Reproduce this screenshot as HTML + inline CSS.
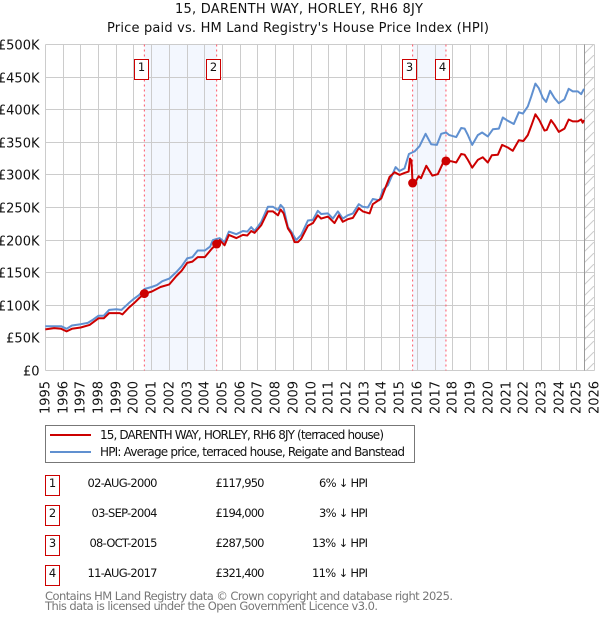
<!DOCTYPE html>
<html lang="en">
<head>
<meta charset="utf-8">
<title>15, DARENTH WAY, HORLEY, RH6 8JY</title>
<style>
html,body{margin:0;padding:0;background:#fff;}
svg{display:block;font-family:"DejaVu Sans","Liberation Sans",sans-serif;}
text{fill:#111;}
</style>
</head>
<body>
<svg id="chart" width="600" height="620" viewBox="0 0 600 620" xmlns="http://www.w3.org/2000/svg">
  <defs>
    <pattern id="hatch" width="11" height="11" patternUnits="userSpaceOnUse" y="0">
      <line x1="0" y1="11" x2="11" y2="0" stroke="#ccc" stroke-width="1"/>
    </pattern>
  </defs>
  <text x="299" y="13" text-anchor="middle" font-size="13" textLength="248" lengthAdjust="spacing">15, DARENTH WAY, HORLEY, RH6 8JY</text>
  <text x="298" y="32" text-anchor="middle" font-size="13" textLength="382" lengthAdjust="spacing">Price paid vs. HM Land Registry's House Price Index (HPI)</text>

  <g id="bands"></g>
  <g id="grid"></g>
  <g id="future"></g>
  <g id="sale-lines"></g>
  <g id="series"></g>
  <g id="markers"></g>
  <g id="labels"></g>

  <g>
    <rect x="45.5" y="425.5" width="369" height="37" fill="#fff" stroke="#777" stroke-width="1"/>
    <line x1="50" y1="435" x2="91" y2="435" stroke="#c00" stroke-width="2"/>
    <text x="100" y="439" font-size="12" textLength="284" lengthAdjust="spacing">15, DARENTH WAY, HORLEY, RH6 8JY (terraced house)</text>
    <line x1="50" y1="452" x2="91" y2="452" stroke="#6090d0" stroke-width="2"/>
    <text x="100" y="456" font-size="12" textLength="305" lengthAdjust="spacing">HPI: Average price, terraced house, Reigate and Banstead</text>
  </g>

  <g font-size="11.5">
    <g>
      <rect x="45.5" y="475.5" width="14" height="20" fill="#fff" stroke="#c00" stroke-width="1"/>
      <text x="52.5" y="487" text-anchor="middle">1</text>
      <text x="157.5" y="487" text-anchor="end" textLength="70" lengthAdjust="spacing">02-AUG-2000</text>
      <text x="264.5" y="487" text-anchor="end" textLength="49" lengthAdjust="spacing">£117,950</text>
      <text x="368" y="487" text-anchor="end" textLength="49" lengthAdjust="spacing">6% ↓ HPI</text>
    </g>
    <g>
      <rect x="45.5" y="505.5" width="14" height="20" fill="#fff" stroke="#c00" stroke-width="1"/>
      <text x="52.5" y="517" text-anchor="middle">2</text>
      <text x="157.5" y="517" text-anchor="end" textLength="66" lengthAdjust="spacing">03-SEP-2004</text>
      <text x="264.5" y="517" text-anchor="end" textLength="49" lengthAdjust="spacing">£194,000</text>
      <text x="368" y="517" text-anchor="end" textLength="49" lengthAdjust="spacing">3% ↓ HPI</text>
    </g>
    <g>
      <rect x="45.5" y="535.5" width="14" height="20" fill="#fff" stroke="#c00" stroke-width="1"/>
      <text x="52.5" y="547" text-anchor="middle">3</text>
      <text x="157.5" y="547" text-anchor="end" textLength="68" lengthAdjust="spacing">08-OCT-2015</text>
      <text x="264.5" y="547" text-anchor="end" textLength="49" lengthAdjust="spacing">£287,500</text>
      <text x="368" y="547" text-anchor="end" textLength="56" lengthAdjust="spacing">13% ↓ HPI</text>
    </g>
    <g>
      <rect x="45.5" y="565.5" width="14" height="20" fill="#fff" stroke="#c00" stroke-width="1"/>
      <text x="52.5" y="577" text-anchor="middle">4</text>
      <text x="157.5" y="577" text-anchor="end" textLength="70" lengthAdjust="spacing">11-AUG-2017</text>
      <text x="264.5" y="577" text-anchor="end" textLength="49" lengthAdjust="spacing">£321,400</text>
      <text x="368" y="577" text-anchor="end" textLength="56" lengthAdjust="spacing">11% ↓ HPI</text>
    </g>
  </g>

  <text x="45" y="600" font-size="11.5" style="fill:#777" textLength="408" lengthAdjust="spacing">Contains HM Land Registry data © Crown copyright and database right 2025.</text>
  <text x="45" y="610" font-size="11.5" style="fill:#777" textLength="333" lengthAdjust="spacing">This data is licensed under the Open Government Licence v3.0.</text>
</svg>

<script>
const yearTicks = [1995,1996,1997,1998,1999,2000,2001,2002,2003,2004,2005,2006,2007,2008,2009,2010,2011,2012,2013,2014,2015,2016,2017,2018,2019,2020,2021,2022,2023,2024,2025,2026];
const priceTicks = [0,50,100,150,200,250,300,350,400,450,500];
const priceTickLabels = ["£0","£50K","£100K","£150K","£200K","£250K","£300K","£350K","£400K","£450K","£500K"];

const saleDates = [2000.59,2004.67,2015.73,2017.61];
const salePrices = [117.95,194,287.5,321.4];
const saleBadges = ["1","2","3","4"];
const dataEndYear = 2025.45;

const hpiDates = [1995,1995.5,1995.9,1996.2,1996.5,1997,1997.4,1997.7,1998,1998.3,1998.6,1999,1999.3,1999.7,2000,2000.3,2000.6,2001,2001.3,2001.6,2002,2002.4,2002.7,2003,2003.3,2003.6,2004,2004.3,2004.46,2004.84,2005.12,2005.36,2005.78,2006.15,2006.4,2006.62,2006.81,2007.19,2007.56,2007.85,2008.13,2008.28,2008.45,2008.69,2008.88,2009.16,2009.44,2009.82,2010.1,2010.38,2010.57,2010.95,2011.23,2011.51,2011.79,2012.07,2012.36,2012.69,2012.92,2013.2,2013.48,2013.86,2014.05,2014.33,2014.77,2014.99,2015.27,2015.52,2015.84,2016.12,2016.46,2016.78,2017.1,2017.34,2017.62,2017.8,2018.19,2018.47,2018.66,2018.85,2019.09,2019.41,2019.65,2019.97,2020.26,2020.6,2020.82,2021.1,2021.44,2021.72,2021.95,2022.23,2022.42,2022.66,2022.85,2023.08,2023.26,2023.49,2023.73,2023.98,2024.3,2024.54,2024.77,2025.05,2025.24,2025.4];
const hpiValues = [68,68,68,64,69,71,73,78,84,84,93,94,93,103,110,116,125,128,131,137,141,151,160,172,174,184,184,190,200,203,197,213,209,214,213,220,214,228,251,251,246,254,249,220,213,200,208,230,231,245,240,241,233,244,233,238,241,255,251,250,263,261,277,284,312,306,310,332,336,344,363,347,346,363,365,361,358,372,371,361,346,361,365,359,370,371,388,383,378,396,394,405,420,440,433,418,412,429,418,410,416,432,428,428,424,432];

const priceDates = [1995,1995.5,1995.9,1996.2,1996.5,1997,1997.5,1998,1998.3,1998.6,1999.2,1999.35,1999.7,2000,2000.3,2000.59,2001,2001.5,2002,2002.4,2002.7,2003,2003.3,2003.6,2004,2004.4,2004.67,2004.84,2005.12,2005.36,2005.78,2006.15,2006.4,2006.62,2006.81,2007.19,2007.56,2007.85,2008.13,2008.28,2008.45,2008.69,2008.88,2009.07,2009.26,2009.44,2009.82,2010.1,2010.38,2010.57,2010.95,2011.32,2011.57,2011.79,2012.07,2012.36,2012.69,2012.92,2013.3,2013.48,2013.96,2014.43,2014.71,2014.99,2015.27,2015.5,2015.58,2015.66,2015.73,2015.9,2016.08,2016.2,2016.5,2016.84,2017.15,2017.44,2017.61,2017.9,2018.19,2018.47,2018.66,2018.85,2019.09,2019.41,2019.69,2019.97,2020.2,2020.54,2020.78,2021.1,2021.38,2021.72,2021.98,2022.23,2022.45,2022.66,2022.88,2023.17,2023.3,2023.54,2023.73,2023.98,2024.3,2024.54,2024.77,2025.05,2025.24,2025.33,2025.4];
const priceValues = [63,65,64,60,64,66,70,80,80,88,88,86,96,103,111,118,121,128,132,145,153,165,167,174,174,187,194,200,192,208,203,208,207,214,211,223,244,244,238,247,241,218,210,197,197,202,222,226,238,233,236,226,238,228,232,234,249,244,241,255,264,297,304,300,303,305,325,322,287.5,290,298,295,314,299,301,318,321.4,321,319,332,331,323,311,323,327,319,330,331,346,342,337,353,352,361,377,393,384,368,369,384,377,366,371,385,382,382,385,380,384];

const NS = "http://www.w3.org/2000/svg";
function xAt(year){ return 45.3 + (year - 1995) * 17.72; }
function yAt(k){ return 370.5 - k * 0.652; }
function snap(v){ return Math.floor(v) + 0.5; }
function make(tag, attrs, parentId){
  const e = document.createElementNS(NS, tag);
  for (const key in attrs) e.setAttribute(key, attrs[key]);
  document.getElementById(parentId).appendChild(e);
  return e;
}
function linePath(dates, values){
  return dates.map(function(d, i){
    return (i ? "L" : "M") + xAt(d).toFixed(1) + " " + yAt(values[i]).toFixed(1);
  }).join("");
}

const plotLeft = snap(xAt(yearTicks[0]));
const plotRight = snap(xAt(yearTicks[yearTicks.length - 1]));
const plotTop = snap(yAt(priceTicks[priceTicks.length - 1]));
const plotBottom = snap(yAt(priceTicks[0]));

for (let i = 0; i + 1 < saleDates.length; i += 2) {
  const band = make("rect", {x: xAt(saleDates[i]), y: plotTop, width: xAt(saleDates[i + 1]) - xAt(saleDates[i]), height: plotBottom - plotTop, fill: "#f3f7fe"}, "bands");
  
  
}

priceTicks.forEach(function(t, i){
  const g = make("line", {x1: plotLeft, x2: plotRight, y1: snap(yAt(t)), y2: snap(yAt(t)), stroke: "#ccc", "stroke-width": 1}, "grid");
  
  
  const label = make("text", {x: 39.5, y: snap(yAt(t)) + 5, "text-anchor": "end", "font-size": 13}, "labels");
  label.textContent = priceTickLabels[i];
  
  
});

yearTicks.forEach(function(t){
  const px = snap(xAt(t));
  const g = make("line", {x1: px, x2: px, y1: plotTop, y2: plotBottom, stroke: "#ccc", "stroke-width": 1}, "grid");
  
  
  const label = make("text", {transform: "translate(" + (px + 4) + ",414) rotate(-90)", "font-size": 13, textLength: 33, lengthAdjust: "spacing"}, "labels");
  label.textContent = String(t);
  
  
});

const endX = snap(xAt(dataEndYear));
const hatch = make("rect", {x: endX, y: plotTop, width: plotRight - endX, height: plotBottom - plotTop, fill: "url(#hatch)"}, "future");


const endLine = make("line", {x1: endX, x2: endX, y1: plotTop, y2: plotBottom, stroke: "#999", "stroke-width": 1}, "future");



saleDates.forEach(function(d){
  const px = xAt(d);
  const l = make("line", {x1: px, x2: px, y1: plotTop, y2: plotBottom, stroke: "#f56", "stroke-width": 1, "stroke-dasharray": "2 3"}, "sale-lines");
  
  
});

const hpiLine = make("path", {d: linePath(hpiDates, hpiValues), fill: "none", stroke: "#6090d0", "stroke-width": 2, "stroke-linejoin": "round"}, "series");


const priceLine = make("path", {d: linePath(priceDates, priceValues), fill: "none", stroke: "#c00", "stroke-width": 2, "stroke-linejoin": "round"}, "series");



saleDates.forEach(function(d, i){
  const px = xAt(d);
  const m = make("circle", {cx: px, cy: yAt(salePrices[i]), r: 4.5, fill: "#c00"}, "markers");
  
  
  const box = make("rect", {x: Math.floor(px) - 9.5, y: 59.5, width: 14, height: 20, fill: "#fff", stroke: "#c00", "stroke-width": 1}, "markers");
  
  
  const t = make("text", {x: Math.floor(px) - 2.5, y: 71, "text-anchor": "middle", "font-size": 11.5}, "markers");
  t.textContent = saleBadges[i];
  
  
});
</script>
</body>
</html>
